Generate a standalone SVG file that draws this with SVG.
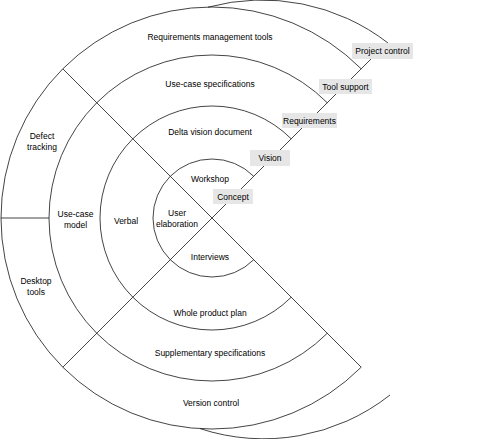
<svg xmlns="http://www.w3.org/2000/svg" width="500" height="439" viewBox="0 0 500 439">
<style>
.ln{fill:none;stroke:#222;stroke-width:0.85}
.t{font-family:"Liberation Sans",Arial,sans-serif;font-size:8.5px;fill:#000;text-anchor:middle}
.box{fill:#e6e6e6;stroke:none}
</style>
<rect width="500" height="439" fill="#fff"/>
<g id="rings">
<path id="ring1" class="ln" d="M253.72,176.28 A59,59 0 1 0 253.72,259.72"/>
<path id="ring2" class="ln" d="M291.2,138.8 A112,112 0 1 0 291.2,297.2"/>
<path id="ring3" class="ln" d="M327.26,102.74 A163,163 0 1 0 327.26,333.26"/>
<path id="ring4" class="ln" d="M361.2,68.8 A211,211 0 1 0 361.2,367.2"/>
</g>
<g id="connectors">
<line class="ln" x1="62.8" y1="68.8" x2="361.2" y2="367.2"/>
<line class="ln" x1="62.8" y1="367.2" x2="371" y2="59"/>
<line class="ln" x1="1" y1="218" x2="49" y2="218"/>
<path class="ln" d="M208,7.2 A206,206 0 0 1 388,43"/>
<path class="ln" d="M200,428.6 A204,204 0 0 0 390,395"/>
</g>
<g id="sectors">
<g id="n-rmt"><text class="t" x="210" y="39.5">Requirements management tools</text></g>
<g id="n-ucs"><text class="t" x="210" y="87">Use-case specifications</text></g>
<g id="n-dvd"><text class="t" x="210" y="134.7">Delta vision document</text></g>
<g id="n-ws"><text class="t" x="210" y="182.3">Workshop</text></g>
<g id="n-ue"><text class="t" x="177" y="216.3">User</text><text class="t" x="177" y="227">elaboration</text></g>
<g id="n-iv"><text class="t" x="210" y="259.7">Interviews</text></g>
<g id="n-vb"><text class="t" x="126" y="224">Verbal</text></g>
<g id="n-ucm"><text class="t" x="75.5" y="217.3">Use-case</text><text class="t" x="75.5" y="228">model</text></g>
<g id="n-dt"><text class="t" x="42" y="139">Defect</text><text class="t" x="42" y="149.5">tracking</text></g>
<g id="n-dk"><text class="t" x="36" y="284">Desktop</text><text class="t" x="36" y="294.5">tools</text></g>
<g id="n-wpp"><text class="t" x="210" y="315.7">Whole product plan</text></g>
<g id="n-ss"><text class="t" x="210" y="356.3">Supplementary specifications</text></g>
<g id="n-vc"><text class="t" x="211" y="405.7">Version control</text></g>
</g>
<g id="labels">
<g id="n-concept"><rect class="box" x="213" y="189" width="40" height="15"/><text class="t" x="233" y="199.5">Concept</text></g>
<g id="n-vision"><rect class="box" x="250" y="150" width="40" height="16"/><text class="t" x="270" y="161">Vision</text></g>
<g id="n-req"><rect class="box" x="282" y="113" width="55" height="15"/><text class="t" x="309.5" y="123.5">Requirements</text></g>
<g id="n-tool"><rect class="box" x="319" y="79" width="53" height="15"/><text class="t" x="345.5" y="89.5">Tool support</text></g>
<g id="n-pc"><rect class="box" x="352" y="43" width="61" height="16"/><text class="t" x="382.5" y="54">Project control</text></g>
</g>
</svg>
